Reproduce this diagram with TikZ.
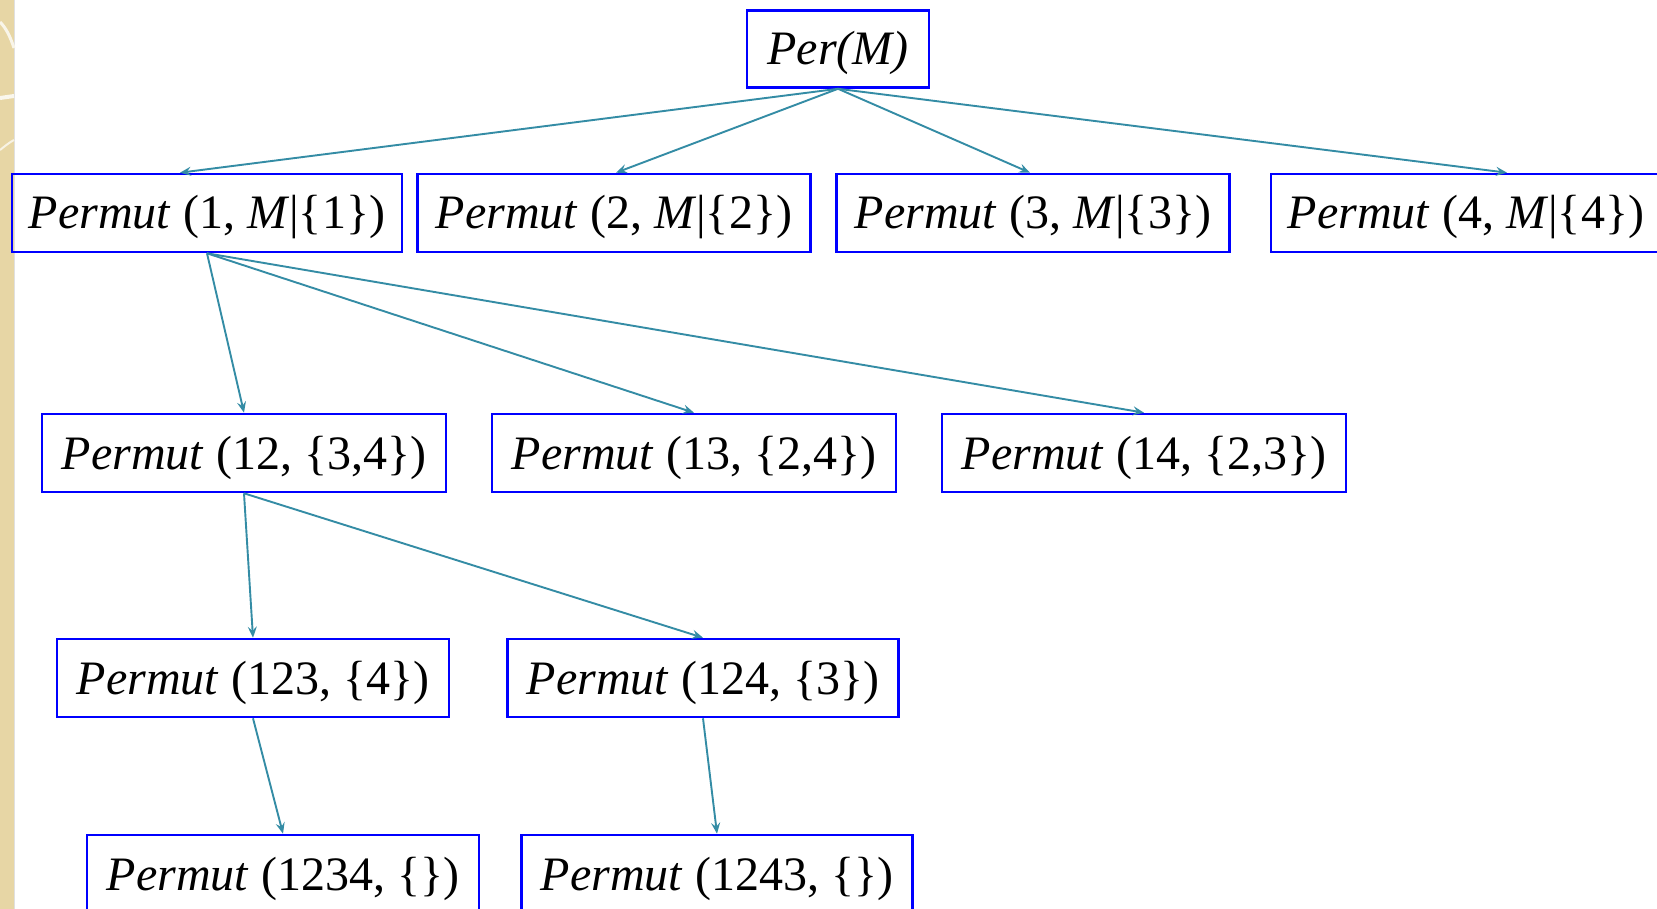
\documentclass[tikz,border=0pt]{standalone}
\usepackage{fontspec}
\setmainfont{Liberation Serif}
\usetikzlibrary{arrows.meta}
\definecolor{boxblue}{RGB}{0,0,255}
\definecolor{arrteal}{RGB}{52,140,165}
\definecolor{stripbeige}{RGB}{231,214,165}
\tikzset{
  pbox/.style={draw=boxblue, line width=2.6pt, inner sep=0pt, minimum height=78pt,
    text height=32pt, text depth=0pt, font=\fontsize{48}{58}\selectfont},
  conn/.style={draw=arrteal, line width=1.9pt, -{Stealth[length=11pt,width=9pt,inset=4pt]}},
}
\begin{document}
\begin{tikzpicture}[x=1pt,y=-1pt]
\useasboundingbox (0,0) rectangle (1657,909);
\clip (0,0) rectangle (1657,909);
\fill[white] (0,0) rectangle (1657,909);
% decorative strip on the left
\fill[stripbeige] (0,0) rectangle (14,909);
\draw[black!12, line width=1.5pt] (14.5,0) -- (14.5,909);
\draw[white!75!stripbeige, line width=3pt] (0,22) .. controls (6,28) and (10,36) .. (14,48);
\draw[white!80!stripbeige, line width=4pt] (0,98) -- (14,96);
\draw[white!70!stripbeige, line width=2pt] (0,150) .. controls (5,146) and (10,142) .. (14,140);

% nodes
\node[pbox, minimum width=182pt, minimum height=77pt] (per) at (838,49) {\textit{Per(M)}};

\node[pbox, minimum width=390pt] (b1) at (207,213) {\textit{Permut} (1, \textit{M}|\{1\})};
\node[pbox, minimum width=393pt] (b2) at (614,213) {\textit{Permut} (2, \textit{M}|\{2\})};
\node[pbox, minimum width=393pt] (b3) at (1033,213) {\textit{Permut} (3, \textit{M}|\{3\})};
\node[pbox, minimum width=390pt] (b4) at (1466,213) {\textit{Permut} (4, \textit{M}|\{4\})};

\node[pbox, minimum width=404pt] (c12) at (244,453) {\textit{Permut} (12, \{3,4\})};
\node[pbox, minimum width=404pt] (c13) at (694,453) {\textit{Permut} (13, \{2,4\})};
\node[pbox, minimum width=404pt] (c14) at (1144,453) {\textit{Permut} (14, \{2,3\})};

\node[pbox, minimum width=392pt] (d123) at (253,678) {\textit{Permut} (123, \{4\})};
\node[pbox, minimum width=391pt] (d124) at (703,678) {\textit{Permut} (124, \{3\})};

\node[pbox, minimum width=392pt] (e1234) at (283,874) {\textit{Permut} (1234, \{\})};
\node[pbox, minimum width=391pt] (e1243) at (717,874) {\textit{Permut} (1243, \{\})};

% connectors
\draw[conn] (per.south) -- ([xshift=-27pt]b1.north);
\draw[conn] (per.south) -- ([xshift=2pt]b2.north);
\draw[conn] (per.south) -- ([xshift=-3pt]b3.north);
\draw[conn] (per.south) -- ([xshift=41pt]b4.north);

\draw[conn] (b1.south) -- (c12.north);
\draw[conn] (b1.south) -- (c13.north);
\draw[conn] (b1.south) -- (c14.north);

\draw[conn] (c12.south) -- (d123.north);
\draw[conn] (c12.south) -- (d124.north);

\draw[conn] (d123.south) -- (e1234.north);
\draw[conn] (d124.south) -- (e1243.north);
\end{tikzpicture}
\end{document}
